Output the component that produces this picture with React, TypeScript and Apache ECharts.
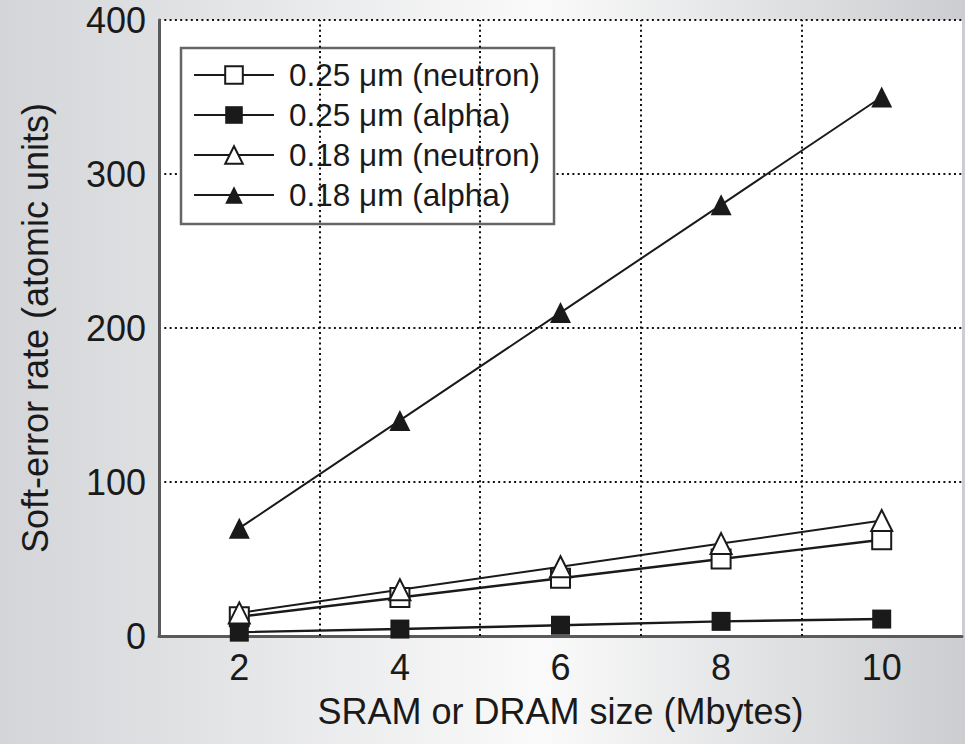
import React, { useEffect, useRef } from "react";
import * as echarts from "echarts";

const sizes = [2, 4, 6, 8, 10];
const n25 = [12.5, 25, 37.5, 50, 62.5];
const a25 = [2.5, 4.5, 7, 9.5, 11];
const n18 = [15, 30, 45, 60, 75];
const a18 = [70, 140, 210, 280, 350];
const gridX = [3, 5, 7, 9];
const names = [
  "0.25 \u03bcm (neutron)",
  "0.25 \u03bcm (alpha)",
  "0.18 \u03bcm (neutron)",
  "0.18 \u03bcm (alpha)",
];

const FONT = "'Liberation Sans', Arial, Helvetica, sans-serif";
const INK = "#1a1a1a";

function pairs(vals: number[]) {
  return sizes.map((x, i) => [x, vals[i]]);
}

export default function App() {
  const ref = useRef<HTMLDivElement>(null);
  useEffect(() => {
    document.body.style.margin = "0";
    const chart = echarts.init(ref.current!, undefined, { renderer: "svg" });
    const dotted = { color: "#111111", width: 2, type: [2, 3.3] as any };
    const mk = (
      name: string,
      vals: number[],
      symbol: string,
      size: number,
      filled: boolean,
      lw: number,
      extra: any = {}
    ) => ({
      name,
      type: "line",
      data: pairs(vals),
      symbol,
      symbolSize: size,
      showAllSymbol: true,
      lineStyle: { color: INK, width: lw },
      itemStyle: {
        color: filled ? INK : "#ffffff",
        borderColor: INK,
        borderWidth: filled ? 0 : 2,
      },
      emphasis: { disabled: true },
      ...extra,
    });
    chart.setOption({
      animation: false,
      backgroundColor: new echarts.graphic.LinearGradient(0, 0, 1, 0, [
        { offset: 0, color: "#d3d5d8" },
        { offset: 0.56, color: "#fafafa" },
        { offset: 1, color: "#cbcdd0" },
      ]),
      textStyle: { fontFamily: FONT },
      grid: {
        left: 159,
        right: -2,
        top: 20,
        bottom: 108,
        show: true,
        backgroundColor: "#ffffff",
        borderWidth: 0,
      },
      legend: {
        left: 181,
        top: 48,
        orient: "vertical",
        backgroundColor: "#ffffff",
        borderColor: "#666666",
        borderWidth: 2.5,
        borderRadius: 0,
        padding: [11, 14, 13, 12],
        itemWidth: 80,
        itemHeight: 22,
        itemGap: 8,
        textStyle: { fontSize: 31.5, color: INK, fontFamily: FONT, padding: [0, 0, 0, 10] },
        data: names,
      },
      xAxis: {
        type: "value",
        min: 1,
        max: 11,
        interval: 1,
        name: "SRAM or DRAM size (Mbytes)",
        nameLocation: "middle",
        nameGap: 57,
        nameTextStyle: { fontSize: 36, color: INK, fontFamily: FONT },
        axisLine: { show: true, lineStyle: { color: "#5a5a5a", width: 3 } },
        axisTick: { show: false },
        splitLine: { show: false },
        axisLabel: {
          fontSize: 36,
          color: INK,
          margin: 13,
          fontFamily: FONT,
          formatter: (v: number) => (v % 2 === 0 && v <= 10 ? String(v) : ""),
        },
      },
      yAxis: {
        type: "value",
        min: 0,
        max: 400,
        interval: 100,
        name: "Soft-error rate (atomic units)",
        nameLocation: "middle",
        nameGap: 106,
        nameTextStyle: { fontSize: 36, color: INK, fontFamily: FONT },
        axisLine: { show: true, lineStyle: { color: "#5a5a5a", width: 3 } },
        axisTick: { show: false },
        splitLine: { show: true, lineStyle: dotted },
        axisLabel: { fontSize: 36, color: INK, margin: 13, fontFamily: FONT },
      },
      series: [
        mk(names[0], n25, "rect", 19, false, 2.4, {
          markLine: {
            silent: true,
            symbol: ["none", "none"],
            label: { show: false },
            lineStyle: dotted,
            emphasis: { disabled: true },
            data: gridX.map((v) => ({ xAxis: v })),
          },
        }),
        mk(names[1], a25, "rect", 19, true, 2.4),
        mk(names[2], n18, "triangle", 21, false, 2),
        mk(names[3], a18, "triangle", 21, true, 2),
      ],
    });
    return () => chart.dispose();
  }, []);
  return <div ref={ref} style={{ width: 965, height: 744 }} />;
}
